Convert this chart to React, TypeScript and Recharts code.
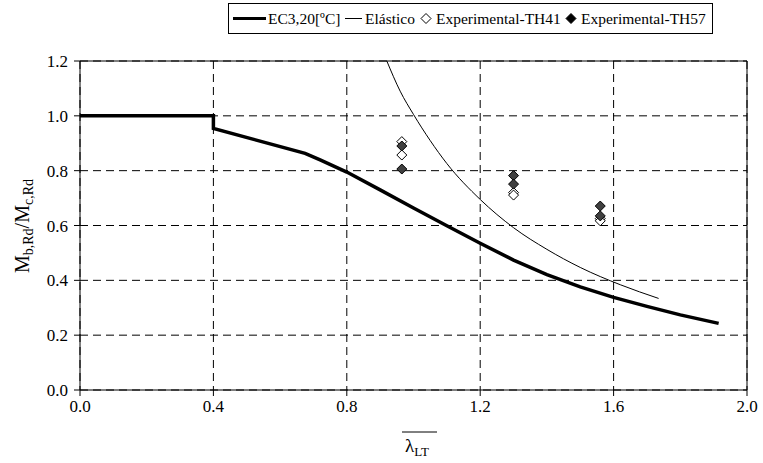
import React from "react";
import {
  ComposedChart,
  Line,
  Scatter,
  XAxis,
  YAxis,
  CartesianGrid,
  ReferenceLine,
} from "recharts";

// values
const ec3X = [0, 0.4, 0.4, 0.675, 0.72, 0.8, 0.9, 1.0, 1.1, 1.2, 1.3, 1.4, 1.5, 1.6, 1.7, 1.8, 1.915];
const ec3Y = [1, 1, 0.954, 0.863, 0.839, 0.795, 0.73, 0.664, 0.599, 0.535, 0.474, 0.421, 0.376, 0.338, 0.305, 0.274, 0.243];

const elasticX = [0.92, 0.96, 1.0, 1.05, 1.1, 1.2, 1.3, 1.4, 1.5, 1.62, 1.735];
const elasticY = [1.2, 1.09, 1.005, 0.91, 0.826, 0.695, 0.592, 0.513, 0.447, 0.384, 0.334];

const th41X = [0.965, 0.965, 1.3, 1.3, 1.56, 1.56];
const th41Y = [0.906, 0.857, 0.72, 0.711, 0.625, 0.617];

const th57X = [0.965, 0.965, 1.3, 1.3, 1.56, 1.56];
const th57Y = [0.89, 0.806, 0.782, 0.751, 0.671, 0.635];

const xTicks = [0, 0.4, 0.8, 1.2, 1.6, 2.0];
const yTicks = [0, 0.2, 0.4, 0.6, 0.8, 1.0, 1.2];

const zip = (xs: number[], ys: number[]) => xs.map((x, i) => ({ x, y: ys[i] }));

const ec3Data = zip(ec3X, ec3Y);
const elasticData = zip(elasticX, elasticY);
const th41Data = zip(th41X, th41Y);
const th57Data = zip(th57X, th57Y);

const FONT = "Liberation Serif";

const diamond = (filled: boolean) => (props: any) => {
  const { cx, cy } = props;
  const r = 5;
  return (
    <path
      d={`M${cx},${cy - r}L${cx + r},${cy}L${cx},${cy + r}L${cx - r},${cy}Z`}
      fill={filled ? "#404040" : "#fff"}
      stroke="#000"
      strokeWidth={1}
    />
  );
};

const XTick = ({ x, y, payload }: any) => (
  <text x={x} y={y} dy={13} textAnchor="middle" fontFamily={FONT} fontSize={17} fill="#000">
    {Number(payload.value).toFixed(1)}
  </text>
);

const YTick = ({ x, y, payload }: any) => (
  <text x={x} y={y} dy={6} textAnchor="end" fontFamily={FONT} fontSize={17} fill="#000">
    {Number(payload.value).toFixed(1)}
  </text>
);

const YLabel = () => (
  <text
    transform="translate(29, 226) rotate(-90)"
    textAnchor="middle"
    fontFamily={FONT}
    fontSize={20}
    fill="#000"
  >
    <tspan>M</tspan>
    <tspan fontSize={14} dy={4}>b,Rd</tspan>
    <tspan dy={-4}>/M</tspan>
    <tspan fontSize={14} dy={4}>c,Rd</tspan>
  </text>
);

const XLabel = () => (
  <g>
    <line x1={402} x2={437} y1={432} y2={432} stroke="#000" strokeWidth={1} />
    <text x={405} y={452} fontFamily={FONT} fontSize={19} fill="#000">
      <tspan>λ</tspan>
      <tspan fontSize={13} dy={4}>LT</tspan>
    </text>
  </g>
);

const ChartLegend = () => (
  <svg
    width={485}
    height={31}
    style={{ position: "absolute", left: 228, top: 3 }}
    fontFamily={FONT}
    fontSize={15.5}
  >
    <rect x={0.5} y={0.5} width={484} height={30} fill="#fff" stroke="#000" />
    <line x1={5} x2={38} y1={15.5} y2={15.5} stroke="#000" strokeWidth={3} />
    <text x={40} y={21} fill="#000">EC3,20[ºC]</text>
    <line x1={117} x2={134} y1={15.5} y2={15.5} stroke="#000" strokeWidth={1} />
    <text x={137} y={21} fill="#000">Elástico</text>
    <path d="M198,10.5L203,15.5L198,20.5L193,15.5Z" fill="#fff" stroke="#000" />
    <text x={208} y={21} fill="#000">Experimental-TH41</text>
    <path d="M343,10.5L348,15.5L343,20.5L338,15.5Z" fill="#000" stroke="#000" />
    <text x={353} y={21} fill="#000">Experimental-TH57</text>
  </svg>
);

export default function App() {
  return (
    <div
      style={{
        position: "absolute",
        left: 0,
        top: 0,
        width: 763,
        height: 463,
        background: "#fff",
      }}
    >
      <ComposedChart
        width={763}
        height={463}
        margin={{ top: 61, right: 16, bottom: 43, left: 0 }}
      >
        <CartesianGrid
          stroke="#000"
          strokeDasharray="8 5"
          horizontalValues={yTicks}
          verticalValues={xTicks}
        />
        <XAxis
          dataKey="x"
          type="number"
          domain={[0, 2]}
          ticks={xTicks}
          tick={<XTick />}
          tickSize={6}
          tickMargin={3}
          height={30}
          stroke="#000"
          allowDataOverflow
          label={<XLabel />}
        />
        <YAxis
          dataKey="y"
          type="number"
          domain={[0, 1.2]}
          ticks={yTicks}
          tick={<YTick />}
          tickSize={6}
          tickMargin={6}
          width={80}
          stroke="#000"
          allowDataOverflow
          label={<YLabel />}
        />
        <ReferenceLine y={1.2} stroke="#000" strokeWidth={1} />
        <ReferenceLine x={2} stroke="#000" strokeWidth={1} />
        <Line
          data={elasticData}
          dataKey="y"
          type="monotone"
          stroke="#000"
          strokeWidth={1}
          dot={false}
          activeDot={false}
          isAnimationActive={false}
        />
        <Line
          data={ec3Data}
          dataKey="y"
          type="linear"
          stroke="#000"
          strokeWidth={3.5}
          dot={false}
          activeDot={false}
          isAnimationActive={false}
        />
        <Scatter
          data={th41Data}
          dataKey="y"
          shape={diamond(false)}
          isAnimationActive={false}
        />
        <Scatter
          data={th57Data}
          dataKey="y"
          shape={diamond(true)}
          isAnimationActive={false}
        />
      </ComposedChart>
      <ChartLegend />
    </div>
  );
}
